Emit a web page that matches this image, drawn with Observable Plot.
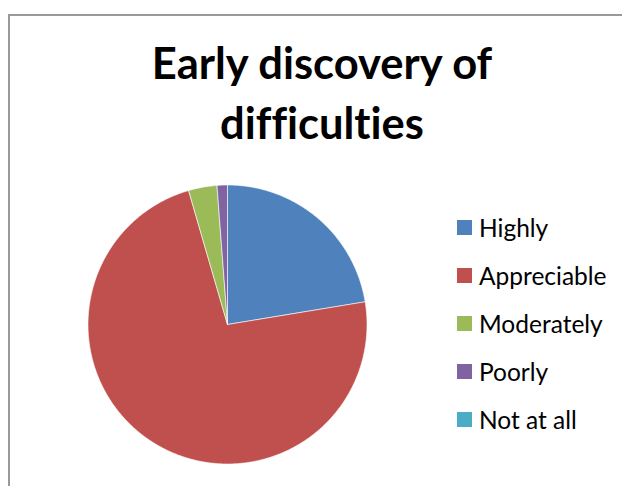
<!DOCTYPE html>
<html>
<head>
<meta charset="utf-8">
<script src="https://cdn.jsdelivr.net/npm/d3@7"></script>
<script src="https://cdn.jsdelivr.net/npm/@observablehq/plot@0.6"></script>
<style>
  html, body { margin: 0; padding: 0; background: #fff; }
  #wrap { position: relative; width: 622px; height: 486px; overflow: hidden; background: #fff; }
  #frame { position: absolute; left: 8px; top: 14px; width: 640px; height: 500px;
           border-top: 2px solid #9a9a9a; border-left: 2px solid #9a9a9a; box-sizing: border-box; }
  #title { position: absolute; left: 8px; width: 628px; top: 32px; text-align: center;
           font-family: Lato, "Open Sans", sans-serif; font-weight: 700; font-size: 43.5px;
           line-height: 60px; color: #000; font-variant-ligatures: none; font-feature-settings: "liga" 0; }
  #chart { position: absolute; left: 0; top: 0; }
  #legend { position: absolute; left: 457px; top: 203px; font-family: Lato, "Open Sans", sans-serif;
            font-size: 24.5px; color: #000; font-variant-ligatures: none; }
  .item { display: flex; align-items: center; height: 48.2px; }
  .sw { width: 15px; height: 15px; margin-right: 7px; }
</style>
</head>
<body>
<div id="wrap">
  <div id="frame"></div>
  <div id="chart"></div>
  <div id="title">Early discovery of<br>difficulties</div>
  <div id="legend"></div>
</div>
<script>
const categories = ["Highly", "Appreciable", "Moderately", "Poorly", "Not at all"];
const values = [22.4, 73.1, 3.3, 1.2, 0];
const colors = ["#4F81BD", "#C0504D", "#9BBB59", "#8064A2", "#4BACC6"];

const arcs = d3.pie().sort(null).value(d => d.value)(
  categories.map((c, i) => ({category: c, value: values[i], color: colors[i]}))
);

// build slice outlines from pie angles (unit circle, y up)
const pts = [];
arcs.forEach(a => {
  if (a.endAngle - a.startAngle <= 0) return;
  const cat = a.data.category;
  pts.push({category: cat, x: 0, y: 0});
  const n = Math.max(2, Math.ceil((a.endAngle - a.startAngle) / (Math.PI / 360)));
  for (let k = 0; k <= n; k++) {
    const t = a.startAngle + (a.endAngle - a.startAngle) * k / n;
    pts.push({category: cat, x: Math.sin(t), y: Math.cos(t)});
  }
  pts.push({category: cat, x: 0, y: 0});
});

const marks = arcs.filter(a => a.endAngle > a.startAngle).map(a =>
  Plot.line(pts.filter(p => p.category === a.data.category), {
    x: "x", y: "y", fill: a.data.color, stroke: "#fff", strokeWidth: 0.6, curve: "linear"
  })
);

const cx = 227, cy = 324, r = 139.5, W = 622, H = 486;
const chart = Plot.plot({
  width: W, height: H,
  marginLeft: cx - r, marginRight: W - cx - r,
  marginTop: cy - r, marginBottom: H - cy - r,
  x: {domain: [-1, 1], axis: null},
  y: {domain: [-1, 1], axis: null},
  style: {background: "transparent", overflow: "visible"},
  marks
});
document.getElementById("chart").appendChild(chart);

const legend = document.getElementById("legend");
categories.forEach((c, i) => {
  const it = document.createElement("div");
  it.className = "item";
  it.innerHTML = `<div class="sw" style="background:${colors[i]}"></div><span>${c}</span>`;
  legend.appendChild(it);
});
</script>
</body>
</html>
